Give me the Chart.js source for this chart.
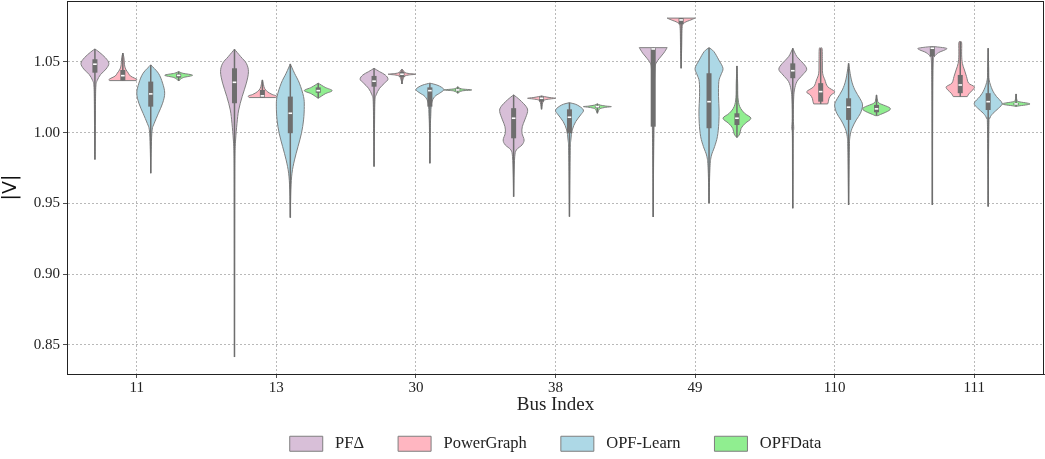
<!DOCTYPE html>
<html>
<head>
<meta charset="utf-8">
<script src="https://cdn.jsdelivr.net/npm/chart.js@4.4.0/dist/chart.umd.min.js"></script>
<style>
  html, body { margin: 0; padding: 0; background: #fff; }
  canvas { display: block; }
</style>
</head>
<body>
<canvas id="violin-chart" width="1045" height="459"></canvas>
<script>
const SERIF = "'Liberation Serif', 'Times New Roman', serif";

const busLabels = ['11', '13', '30', '38', '49', '110', '111'];
const yTicks = [0.85, 0.90, 0.95, 1.00, 1.05];
const seriesNames = ['PF\u0394', 'PowerGraph', 'OPF-Learn', 'OPFData'];
const seriesColors = ['#d8bfd8', '#ffb6c1', '#add8e6', '#90ee90'];

// Violin outlines, per bus: [value, relative half-width], top to bottom
const pfShape = [
  [[1.0592,0],[1.057,0.3],[1.053,0.75],[1.049,1],[1.045,0.8],[1.041,0.4],[1.037,0.17],[1.033,0.07],[1.02,0.04],[1.0,0.025],[0.981,0]],
  [[1.059,0],[1.0537,0.45],[1.049,0.85],[1.0431,1],[1.035,0.85],[1.0255,0.55],[1.016,0.3],[1.0066,0.18],[0.9948,0.08],[0.983,0.03],[0.95,0.015],[0.8413,0]],
  [[1.0455,0],[1.0431,0.4],[1.0408,0.8],[1.0378,1],[1.035,0.75],[1.0314,0.4],[1.0267,0.15],[1.0219,0.06],[1.0,0.03],[0.976,0]],
  [[1.0267,0],[1.0231,0.45],[1.0184,0.9],[1.0149,1],[1.009,0.8],[1.0042,0.62],[0.9996,0.6],[0.9948,0.75],[0.9913,0.6],[0.9878,0.2],[0.983,0.08],[0.97,0.03],[0.9547,0]],
  [[1.0601,1],[1.0562,0.75],[1.0526,0.45],[1.049,0.2],[1.0443,0.12],[1.0279,0.08],[1.0042,0.06],[0.98,0.03],[0.9404,0]],
  [[1.0597,0],[1.0537,0.3],[1.049,0.75],[1.0448,1],[1.0408,0.7],[1.0361,0.3],[1.0302,0.12],[1.0231,0.06],[1.01,0.04],[1.003,0.07],[0.998,0.03],[0.97,0.02],[0.9465,0]],
  [[1.0608,0.2],[1.0597,1],[1.0585,0.9],[1.0566,0.45],[1.0538,0.15],[1.0502,0.07],[1.03,0.03],[0.9489,0]],
];
// [low, q1, median, q3, high]
const pfBox = [
  [0.981, 1.0424, 1.0484, 1.0519, 1.0592],
  [0.8413, 1.0208, 1.0356, 1.0455, 1.059],
  [0.976, 1.0325, 1.0364, 1.0401, 1.0455],
  [0.9547, 0.996, 1.0102, 1.0173, 1.0267],
  [0.9404, 1.0042, 1.0592, 1.0597, 1.0601],
  [0.9465, 1.0385, 1.0438, 1.049, 1.0597],
  [0.9489, 1.0538, 1.0597, 1.0606, 1.0608],
];

const pgShape = [
  [[1.0563,0],[1.053,0.08],[1.048,0.12],[1.045,0.2],[1.042,0.4],[1.04,0.55],[1.0385,0.85],[1.0375,1],[1.0368,0.95]],
  [[1.0373,0],[1.034,0.08],[1.0314,0.15],[1.029,0.35],[1.027,0.7],[1.026,1],[1.0248,0.95]],
  [[1.0448,0],[1.044,0.1],[1.0425,0.2],[1.0418,0.5],[1.0413,1],[1.0408,0.5],[1.04,0.2],[1.038,0.08],[1.0344,0]],
  [[1.026,0],[1.0255,0.2],[1.0248,0.6],[1.0243,1],[1.0238,0.6],[1.023,0.2],[1.021,0.08],[1.0165,0]],
  [[1.081,1],[1.0797,0.7],[1.0778,0.25],[1.075,0.08],[1.06,0.04],[1.0455,0]],
  [[1.0598,0],[1.0592,0.1],[1.05,0.12],[1.042,0.14],[1.0373,0.3],[1.0325,0.5],[1.029,1],[1.0267,0.75],[1.0243,0.6],[1.0219,0.55],[1.0203,0.5]],
  [[1.0644,0],[1.0635,0.1],[1.055,0.1],[1.049,0.15],[1.0443,0.3],[1.0396,0.45],[1.035,0.6],[1.0325,1],[1.0302,0.9],[1.0279,0.65],[1.0255,0.5]],
];
const pgBox = [
  [1.0368, 1.0368, 1.0403, 1.0443, 1.0563],
  [1.0248, 1.0248, 1.026, 1.0302, 1.0373],
  [1.0344, 1.0392, 1.0413, 1.0431, 1.0448],
  [1.0165, 1.0219, 1.0243, 1.0255, 1.026],
  [1.0455, 1.0766, 1.0797, 1.081, 1.081],
  [1.0203, 1.0219, 1.029, 1.035, 1.0597],
  [1.0255, 1.0279, 1.0337, 1.0408, 1.0644],
];

const olShape = [
  [[1.0479,0],[1.042,0.55],[1.035,0.85],[1.0279,1],[1.0208,0.85],[1.0137,0.55],[1.0066,0.25],[1.0019,0.1],[0.99,0.04],[0.9713,0]],
  [[1.0486,0],[1.042,0.3],[1.035,0.65],[1.0255,0.95],[1.0184,1],[1.009,0.95],[0.9996,0.8],[0.9901,0.55],[0.9807,0.3],[0.9713,0.12],[0.9595,0.04],[0.9399,0]],
  [[1.035,0],[1.0337,0.5],[1.032,0.85],[1.0302,1],[1.0279,0.7],[1.0255,0.35],[1.0208,0.12],[1.0113,0.06],[1.0019,0.03],[0.9783,0]],
  [[1.0212,0],[1.0196,0.55],[1.016,1],[1.0125,0.8],[1.0078,0.45],[1.0019,0.2],[0.9948,0.1],[0.9856,0.05],[0.9406,0]],
  [[1.0601,0],[1.0573,0.35],[1.0514,0.7],[1.0455,1],[1.0408,0.85],[1.0361,0.7],[1.0255,0.68],[1.016,0.72],[1.0066,0.7],[0.9972,0.6],[0.9901,0.4],[0.983,0.15],[0.9736,0.06],[0.9501,0]],
  [[1.049,0],[1.0373,0.2],[1.0302,0.45],[1.0243,0.8],[1.0196,1],[1.0137,0.85],[1.009,0.55],[1.0031,0.25],[0.9972,0.1],[0.9878,0.05],[0.9489,0]],
  [[1.0597,0],[1.045,0.04],[1.0373,0.07],[1.0302,0.3],[1.0255,0.6],[1.0208,1],[1.0173,0.75],[1.0137,0.35],[1.0102,0.12],[1.0042,0.05],[0.9477,0]],
];
const olBox = [
  [0.9713, 1.0184, 1.0274, 1.0361, 1.0479],
  [0.9399, 0.9996, 1.0137, 1.0255, 1.0486],
  [0.9783, 1.0184, 1.0297, 1.032, 1.035],
  [0.9406, 0.9996, 1.0109, 1.0165, 1.0212],
  [0.9501, 1.0031, 1.0219, 1.042, 1.0601],
  [0.9489, 1.009, 1.018, 1.0243, 1.049],
  [0.9477, 1.016, 1.0219, 1.0279, 1.0597],
];

const odShape = [
  [[1.0432,0],[1.042,0.3],[1.0406,1],[1.039,0.35],[1.0375,0.1],[1.0366,0]],
  [[1.035,0],[1.032,0.5],[1.0297,1],[1.0275,0.5],[1.0243,0]],
  [[1.0325,0],[1.031,0.25],[1.0302,1],[1.0295,0.3],[1.0279,0]],
  [[1.0204,0],[1.0195,0.2],[1.0188,0.6],[1.0184,1],[1.0179,0.6],[1.017,0.2],[1.0155,0.08],[1.0137,0]],
  [[1.0472,0],[1.035,0.05],[1.025,0.07],[1.0184,0.2],[1.0137,0.55],[1.0102,1],[1.0066,0.6],[1.0031,0.3],[0.999,0.2],[0.9965,0]],
  [[1.0267,0],[1.023,0.07],[1.0208,0.2],[1.0168,1],[1.0125,0.2],[1.012,0]],
  [[1.0274,0],[1.023,0.06],[1.0219,0.2],[1.0203,1],[1.0189,0.2],[1.0185,0]],
];
const odBox = [
  [1.0366, 1.0389, 1.0405, 1.0417, 1.0432],
  [1.0243, 1.0282, 1.0297, 1.032, 1.035],
  [1.0279, 1.0295, 1.0302, 1.031, 1.0325],
  [1.0137, 1.0175, 1.0184, 1.019, 1.0204],
  [0.9965, 1.0054, 1.0102, 1.0137, 1.0472],
  [1.012, 1.0144, 1.0168, 1.0196, 1.0267],
  [1.0185, 1.0195, 1.0203, 1.021, 1.0274],
];

const allShapes = [pfShape, pgShape, olShape, odShape];
const allBoxes = [pfBox, pgBox, olBox, odBox];

// ── Catmull-Rom through points ────────────────────────
function splineThrough(ctx, pts) {
  for (let i = 0; i < pts.length - 1; i++) {
    const p0 = pts[i - 1] || pts[i], p1 = pts[i], p2 = pts[i + 1], p3 = pts[i + 2] || pts[i + 1];
    ctx.bezierCurveTo(
      p1[0] + (p2[0] - p0[0]) / 6, p1[1] + (p2[1] - p0[1]) / 6,
      p2[0] - (p3[0] - p1[0]) / 6, p2[1] - (p3[1] - p1[1]) / 6,
      p2[0], p2[1]
    );
  }
}

function drawViolin(ctx, cx, half, shape, yScale, fill) {
  const right = shape.map(([v, w]) => [cx + w * half, yScale.getPixelForValue(v)]);
  const left = shape.slice().reverse().map(([v, w]) => [cx - w * half, yScale.getPixelForValue(v)]);
  ctx.beginPath();
  ctx.moveTo(right[0][0], right[0][1]);
  splineThrough(ctx, right);
  ctx.lineTo(left[0][0], left[0][1]);
  splineThrough(ctx, left);
  ctx.closePath();
  ctx.fillStyle = fill;
  ctx.fill();
  ctx.lineWidth = 1;
  ctx.strokeStyle = '#7f7f7f';
  ctx.stroke();
}

function drawInnerBox(ctx, cx, box, yScale) {
  const [lo, q1, med, q3, hi] = box.map(v => yScale.getPixelForValue(v));
  ctx.strokeStyle = '#6e6e6e';
  ctx.lineWidth = 1.5;
  ctx.beginPath();
  ctx.moveTo(cx, lo);
  ctx.lineTo(cx, hi);
  ctx.stroke();
  ctx.fillStyle = '#6e6e6e';
  ctx.fillRect(cx - 2.5, q3, 5, Math.max(q1 - q3, 1.5));
  ctx.fillStyle = '#ffffff';
  ctx.fillRect(cx - 1.8, med - 0.8, 3.6, 1.6);
}

const violinPlugin = {
  id: 'violins',
  beforeDatasetDraw() { return false; },
  afterDatasetsDraw(chart) {
    const { ctx, chartArea } = chart;
    const yScale = chart.scales.y;
    ctx.save();
    ctx.beginPath();
    ctx.rect(chartArea.left, chartArea.top, chartArea.right - chartArea.left, chartArea.bottom - chartArea.top);
    ctx.clip();
    chart.data.datasets.forEach((ds, di) => {
      const meta = chart.getDatasetMeta(di);
      meta.data.forEach((bar, i) => {
        drawViolin(ctx, bar.x, bar.width / 2, allShapes[di][i], yScale, ds.backgroundColor);
        drawInnerBox(ctx, bar.x, allBoxes[di][i], yScale);
      });
    });
    ctx.restore();
  },
  afterDraw(chart) {
    const { ctx, chartArea } = chart;
    ctx.save();
    ctx.strokeStyle = '#222';
    ctx.lineWidth = 1;
    ctx.strokeRect(chartArea.left + 0.5, chartArea.top + 0.5, chartArea.right - chartArea.left - 1, chartArea.bottom - chartArea.top);
    ctx.restore();
  },
};

new Chart(document.getElementById('violin-chart'), {
  type: 'bar',
  data: {
    labels: busLabels,
    datasets: seriesNames.map((name, di) => ({
      label: name,
      data: allBoxes[di].map(b => [b[0], b[4]]),
      backgroundColor: seriesColors[di],
      borderColor: '#7f7f7f',
      borderWidth: 1,
      categoryPercentage: 0.8,
      barPercentage: 1.0,
    })),
  },
  options: {
    responsive: false,
    animation: false,
    devicePixelRatio: 1,
    layout: { padding: { top: 1, right: 1, left: 0, bottom: -3 } },
    plugins: {
      legend: {
        position: 'bottom',
        fullSize: false,
        labels: {
          boxWidth: 33,
          boxHeight: 15,
          padding: 34,
          color: '#222',
          font: { family: SERIF, size: 16.5 },
          generateLabels(chart) {
            return Chart.defaults.plugins.legend.labels.generateLabels(chart)
              .map(item => ({ ...item, text: ' ' + item.text }));
          },
        },
      },
      tooltip: { enabled: false },
    },
    scales: {
      x: {
        afterFit(scale) { scale.height = 27.5; scale.paddingLeft = 0; scale.paddingRight = 0; },
        grid: { offset: false, color: '#a8a8a8', lineWidth: 0.8, tickLength: 4, tickColor: '#222', tickBorderDash: [] },
        border: { dash: [2, 2], color: '#222' },
        ticks: { color: '#222', font: { family: SERIF, size: 15 }, padding: 1 },
        title: { display: true, text: 'Bus Index', color: '#222', font: { family: SERIF, size: 19 }, padding: { top: 0, bottom: -15 } },
      },
      y: {
        min: 0.8293,
        max: 1.0931,
        afterBuildTicks(scale) { scale.ticks = yTicks.map(v => ({ value: v })); },
        afterFit(scale) { scale.width = 67; scale.paddingTop = 0; scale.paddingBottom = 0; },
        grid: { color: '#a8a8a8', lineWidth: 0.8, tickLength: 4, tickColor: '#222', tickBorderDash: [] },
        border: { dash: [2, 2], color: '#222' },
        ticks: { color: '#222', font: { family: SERIF, size: 15 }, padding: 3, callback: v => v.toFixed(2) },
        title: { display: true, text: '|V|', color: '#111', font: { family: "'DejaVu Sans', sans-serif", size: 19 }, padding: 0 },
      },
    },
  },
  plugins: [violinPlugin],
});
</script>
</body>
</html>
